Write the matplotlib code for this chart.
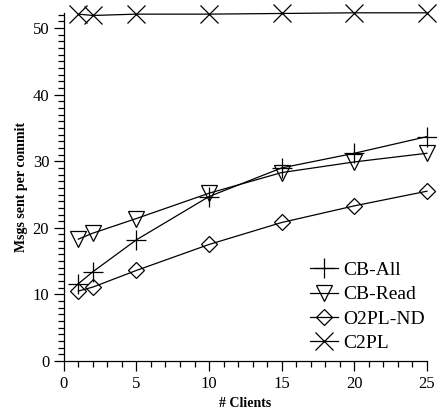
import matplotlib.pyplot as plt
from matplotlib.ticker import MultipleLocator

# datos
clients = [1, 2, 5, 10, 15, 20, 25]
cb_all = [11.6, 13.4, 18.2, 24.7, 29.0, 31.2, 33.7]
cb_read = [18.3, 19.2, 21.4, 25.2, 28.3, 29.9, 31.2]
o2pl_nd = [10.5, 11.1, 13.6, 17.5, 20.8, 23.3, 25.5]
c2pl = [52.1, 51.9, 52.1, 52.1, 52.2, 52.3, 52.3]

plt.rcParams['font.family'] = ['Liberation Serif', 'DejaVu Serif']

fig = plt.figure(figsize=(4.37, 4.13), dpi=100)
ax = fig.add_axes([0.146, 0.126, 0.831, 0.843])

estilo = dict(color='black', linewidth=0.9, markerfacecolor='none',
              markeredgecolor='black', markeredgewidth=0.9, clip_on=False)
ax.plot(clients, cb_all, marker='+', markersize=14, label='CB-All', **estilo)
ax.plot(clients, cb_read, marker='v', markersize=11, label='CB-Read', **estilo)
ax.plot(clients, o2pl_nd, marker='D', markersize=8.5, label='O2PL-ND', **estilo)
ax.plot(clients, c2pl, marker='x', markersize=13, label='C2PL', **estilo)

ax.set_xlim(0, 25)
ax.set_ylim(0, 52.3)
ax.xaxis.set_major_locator(MultipleLocator(5))
ax.xaxis.set_minor_locator(MultipleLocator(1))
ax.yaxis.set_major_locator(MultipleLocator(10))
ax.yaxis.set_minor_locator(MultipleLocator(1))
ax.tick_params(which='major', direction='out', length=7, width=0.9, labelsize=12)
ax.tick_params(which='minor', direction='out', length=4, width=0.9)

for lado in ['top', 'right']:
    ax.spines[lado].set_visible(False)
for lado in ['left', 'bottom']:
    ax.spines[lado].set_linewidth(0.9)

ax.set_xlabel('# Clients', fontweight='bold', fontsize=10, labelpad=4)
ax.set_ylabel('Msgs sent per commit', fontweight='bold', fontsize=10, labelpad=3)

ax.legend(loc='lower right', frameon=False, fontsize=14, handlelength=1.4,
          handletextpad=0.3, labelspacing=0.35, borderaxespad=0, borderpad=0,
          bbox_to_anchor=(0.995, 0.025))

fig.savefig('out.png', dpi=100)
